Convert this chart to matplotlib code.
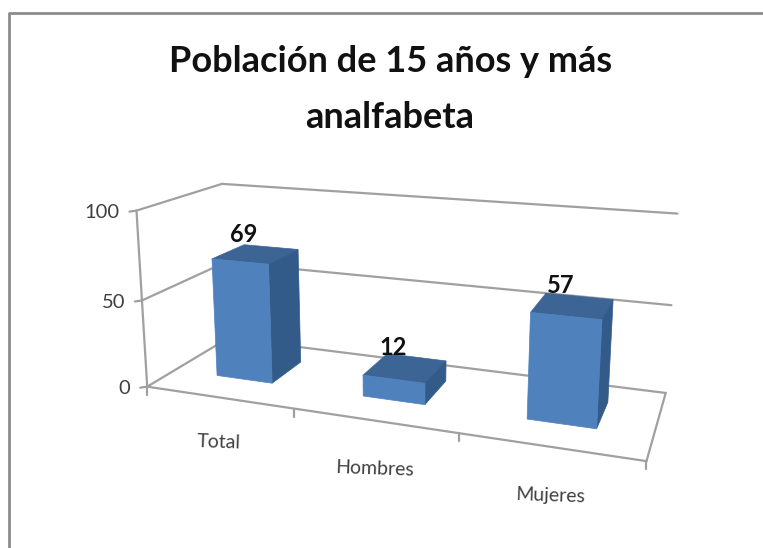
import matplotlib
matplotlib.use("Agg")
import matplotlib.pyplot as plt
import numpy as np

categories = ["Total", "Hombres", "Mujeres"]
values = [69, 12, 57]
y_ticks = [0, 50, 100]
title_lines = ["Población de 15 años y más", "analfabeta"]

BAR_WIDTH = 0.39   # share of one category
DEPTH = (0.32, 0.73)
FRONT, SIDE, TOP = "#4f81bd", "#335b8a", "#3c6595"
GRID = "#a0a0a0"
FONT = ["Lato", "DejaVu Sans"]

# where the box corners of the 3d chart land on the image: (u, depth, value) -> pixel
anchors = [
    ((0, 0, 0), (150, 387)),
    ((1, 0, 0), (646, 462)),
    ((0, 1, 0), (227, 338)),
    ((1, 1, 0), (666, 392)),
    ((0, 0, 100), (137, 210)),
    ((0, 1, 100), (223, 184)),
    ((1, 1, 100), (677, 214)),
    ((0, 0, 50), (139, 300)),
    ((1, 1, 50), (672, 305)),
    ((0, 1, 50), (225, 263)),
]


def fit_camera(anchors):
    # plain DLT, gives a real perspective so the category spacing grows towards the viewer
    rows, rhs = [], []
    for (u, d, v), (px, py) in anchors:
        v = v / 100
        rows.append([u, d, v, 1, 0, 0, 0, 0, -px * u, -px * d, -px * v])
        rows.append([0, 0, 0, 0, u, d, v, 1, -py * u, -py * d, -py * v])
        rhs += [px, py]
    p = np.linalg.lstsq(np.array(rows, float), np.array(rhs, float), rcond=None)[0]
    return np.append(p, 1).reshape(3, 4)


CAM = fit_camera(anchors)


def proj(u, d, v):
    x, y, w = CAM @ np.array([u, d, v / 100, 1])
    return x / w, y / w


def seg(ax, pa, pb, lw=1.6):
    ax.plot([pa[0], pb[0]], [pa[1], pb[1]], color=GRID, lw=lw, solid_capstyle="round", zorder=1)


def line(ax, a, b):
    seg(ax, proj(*a), proj(*b))


def face(ax, corners, color, z):
    ax.fill(*zip(*[proj(*c) for c in corners]), color=color, lw=0.5, zorder=z)


plt.rcParams["font.family"] = FONT
fig = plt.figure(figsize=(7.63, 5.48), dpi=100)
ax = fig.add_axes([0, 0, 1, 1])
ax.set_xlim(0, 763)
ax.set_ylim(548, 0)
ax.axis("off")

# outer frame of the pasted picture
ax.plot([9, 9, 763], [548, 13, 13], color="#8c8c8c", lw=2, zorder=1)

# walls and floor
for t in y_ticks:
    line(ax, (0, 0, t), (0, 1, t))
    line(ax, (0, 1, t), (1, 1, t))
    px, py = proj(0, 0, t)
    seg(ax, (px, py), (px - 7, py + 1))
    ax.text(px - 17, py + 2, str(t), ha="right", va="center", fontsize=14.5, color="#404040")
line(ax, (0, 0, 0), (0, 0, 100))
line(ax, (0, 0, 0), (1, 0, 0))
line(ax, (1, 0, 0), (1, 1, 0))

n = len(categories)
for i in range(n + 1):
    px, py = proj(i / n, 0, 0)
    seg(ax, (px, py), (px, py + 8))

label_offsets = [(0, 45), (1, 48), (1, 49)]
for i, (cat, val) in enumerate(zip(categories, values)):
    c = (i + 0.5) / n
    u0, u1 = c - BAR_WIDTH / n / 2, c + BAR_WIDTH / n / 2
    d0, d1 = DEPTH
    z = 3 + i
    face(ax, [(u0, d0, val), (u1, d0, val), (u1, d1, val), (u0, d1, val)], TOP, z)
    face(ax, [(u1, d0, 0), (u1, d1, 0), (u1, d1, val), (u1, d0, val)], SIDE, z)
    face(ax, [(u0, d0, 0), (u1, d0, 0), (u1, d0, val), (u0, d0, val)], FRONT, z + 0.5)

    px, py = proj(c, (d0 + d1) / 2, val)
    ax.text(px - 12, py - 20, str(val), ha="center", va="center", fontsize=17,
            fontweight="bold", color="#111111", zorder=10)

    fx, fy = proj(c, 0, 0)
    ax.text(fx + label_offsets[i][0], fy + label_offsets[i][1], cat, ha="center", va="center",
            fontsize=14, color="#404040", rotation=-2)

ax.text(391, 62, title_lines[0], ha="center", va="center", fontsize=26, fontweight="bold", color="#111111")
ax.text(390, 118, title_lines[1], ha="center", va="center", fontsize=26, fontweight="bold", color="#111111")

fig.savefig("out.png", dpi=100)
